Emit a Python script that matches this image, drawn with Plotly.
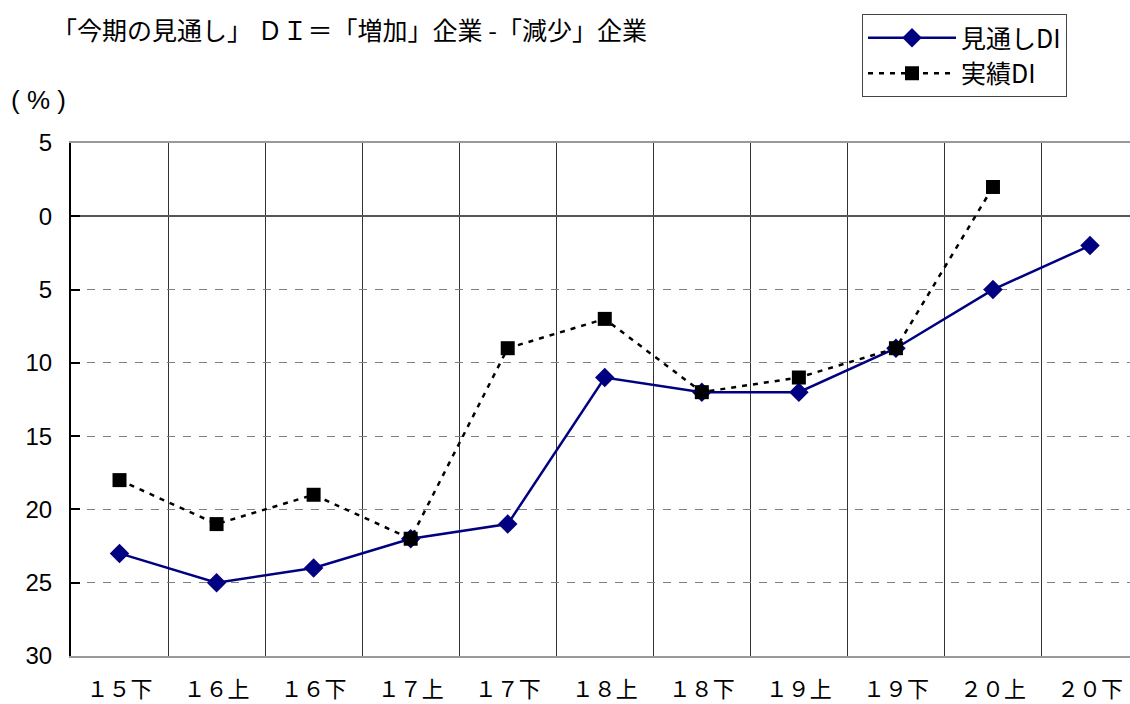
import plotly.graph_objects as go

# Survey periods (half-year terms)
periods = ["１５下", "１６上", "１６下", "１７上", "１７下", "１８上",
           "１８下", "１９上", "１９下", "２０上", "２０下"]

# DI values (%): outlook DI and actual DI
outlook_di = [-23, -25, -24, -22, -21, -11, -12, -12, -9, -5, -2]
actual_di = [-18, -21, -19, -22, -9, -7, -12, -11, -9, 2, None]

# y-axis ticks are labelled with absolute values
y_ticks = [5, 0, -5, -10, -15, -20, -25, -30]
y_ticktext = [str(abs(v)) for v in y_ticks]

JP = "Noto Sans CJK JP"
LAT = "Liberation Sans"

x_idx = list(range(len(periods)))

fig = go.Figure()
fig.add_trace(go.Scatter(
    x=x_idx, y=outlook_di, name="見通しDI", mode="lines+markers",
    line=dict(color="#000080", width=2.5),
    marker=dict(symbol="diamond", size=15, color="#000080"),
))
fig.add_trace(go.Scatter(
    x=x_idx, y=actual_di, name="実績DI", mode="lines+markers",
    line=dict(color="#000000", width=2.5, dash="5px,6px"),
    marker=dict(symbol="square", size=14, color="#000000"),
))

fig.update_layout(
    width=1130, height=704,
    margin=dict(l=71, r=0, t=143, b=48),
    paper_bgcolor="white", plot_bgcolor="white",
    font=dict(family=JP, color="#000000"),
    showlegend=True,
    legend=dict(
        x=(862 - 71) / 1059, y=1 + (143 - 14) / 513,
        xanchor="left", yanchor="top",
        bordercolor="#444444", borderwidth=1,
        font=dict(family=JP, size=25, color="#000000"),
        itemwidth=88, tracegroupgap=0,
        bgcolor="white",
    ),
    xaxis=dict(
        range=[-0.5, 10.412],
        tickmode="array", tickvals=x_idx, ticktext=periods,
        tickfont=dict(family=JP, size=22, color="#000000"),
        ticks="", showgrid=False, zeroline=False,
        showline=True, linecolor="#999999", linewidth=2, mirror=True,
        ticklabelstandoff=13,
        minor=dict(tick0=0.5, dtick=1, showgrid=True,
                   gridcolor="#333333", gridwidth=1, ticks=""),
    ),
    yaxis=dict(
        range=[-30, 5],
        tickmode="array", tickvals=y_ticks, ticktext=y_ticktext,
        tickfont=dict(family=LAT, size=24, color="#000000"),
        ticks="inside", ticklen=9, tickcolor="#000000", tickwidth=2,
        showgrid=True, gridcolor="#808080", gridwidth=1, griddash="8px,8px",
        zeroline=True, zerolinecolor="#555555", zerolinewidth=1.5,
        showline=True, linecolor="#000000", linewidth=2,
        ticklabelstandoff=12,
    ),
    annotations=[
        dict(text="「今期の見通し」 ＤＩ＝「増加」企業 -「減少」企業",
             xref="paper", yref="paper",
             x=(50 - 71) / 1059, y=1 + (143 - 29) / 513,
             xanchor="left", yanchor="middle", showarrow=False,
             font=dict(family=JP, size=25, color="#000000")),
        dict(text="( % )",
             xref="paper", yref="paper",
             x=(9 - 71) / 1059, y=1 + (143 - 100) / 513,
             xanchor="left", yanchor="middle", showarrow=False,
             font=dict(family=LAT, size=26, color="#000000")),
    ],
)

fig.write_html("out.html")
